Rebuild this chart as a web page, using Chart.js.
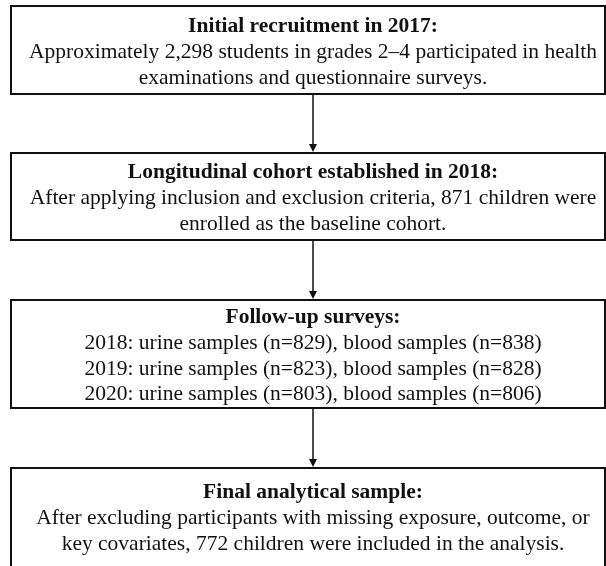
<!DOCTYPE html>
<html>
<head>
<meta charset="utf-8">
<script src="https://cdn.jsdelivr.net/npm/chart.js@4/dist/chart.umd.min.js"></script>
<style>
  html, body { margin: 0; padding: 0; background: #ffffff; }
  #wrap { width: 606px; height: 566px; position: relative; }
</style>
</head>
<body>
<div id="wrap"><canvas id="c"></canvas></div>
<script>
// ---------- DATA ----------
const stageTitles = [
  "Initial recruitment in 2017:",
  "Longitudinal cohort established in 2018:",
  "Follow-up surveys:",
  "Final analytical sample:"
];
const recruitedN = "2,298";
const baselineN = 871;
const finalN = 772;
const followYears = [2018, 2019, 2020];
const urineN = [829, 823, 803];
const bloodN = [838, 828, 806];

const stageLines = [
  ["Approximately " + recruitedN + " students in grades 2\u20134 participated in health",
   "examinations and questionnaire surveys."],
  ["After applying inclusion and exclusion criteria, " + baselineN + " children were",
   "enrolled as the baseline cohort."],
  followYears.map((y, i) => y + ": urine samples (n=" + urineN[i] + "), blood samples (n=" + bloodN[i] + ")"),
  ["After excluding participants with missing exposure, outcome, or",
   "key covariates, " + finalN + " children were included in the analysis."]
];

// ---------- LAYOUT / STYLE (scale units) ----------
const layout = {
  left: 11, right: 605, textCenter: 313, arrowX: 313,
  tops:    [6, 153, 300, 468],
  bottoms: [94, 240, 408, 620],
  firstBaseline: [26, 25, 23, 30],
  pitch: 25.8,
  fontSize: 21.5,
  font: "'Liberation Serif', 'Times New Roman', serif",
  color: "#111111",
  boxLine: 2,
  arrowLine: 1.5,
  headW: 4, headH: 8
};

const flowPlugin = {
  id: 'flow',
  afterDraw(chart) {
    const ctx = chart.ctx;
    const xs = chart.scales.x, ys = chart.scales.y;
    const X = v => xs.getPixelForValue(v);
    const Y = v => ys.getPixelForValue(v);
    ctx.save();
    ctx.strokeStyle = layout.color;
    ctx.fillStyle = layout.color;
    // boxes
    stageTitles.forEach((t, i) => {
      const x0 = X(layout.left), x1 = X(layout.right);
      const y0 = Y(layout.tops[i]), y1 = Y(layout.bottoms[i]);
      ctx.lineWidth = layout.boxLine;
      ctx.strokeRect(x0, y0, x1 - x0, y1 - y0);
      ctx.textAlign = 'center';
      ctx.textBaseline = 'alphabetic';
      const cx = X(layout.textCenter);
      let by = layout.tops[i] + layout.firstBaseline[i];
      ctx.font = "bold " + layout.fontSize + "px " + layout.font;
      ctx.fillText(t, cx, Y(by));
      ctx.font = layout.fontSize + "px " + layout.font;
      stageLines[i].forEach(line => {
        by += layout.pitch;
        ctx.fillText(line, cx, Y(by));
      });
    });
    // arrows
    for (let i = 0; i < stageTitles.length - 1; i++) {
      const ax = X(layout.arrowX);
      const ya = Y(layout.bottoms[i]) + layout.boxLine / 2;
      const yb = Y(layout.tops[i + 1]) - layout.boxLine / 2;
      ctx.lineWidth = layout.arrowLine;
      ctx.beginPath();
      ctx.moveTo(ax, ya);
      ctx.lineTo(ax, yb - layout.headH + 1);
      ctx.stroke();
      ctx.beginPath();
      ctx.moveTo(ax - layout.headW, yb - layout.headH);
      ctx.lineTo(ax + layout.headW, yb - layout.headH);
      ctx.lineTo(ax, yb);
      ctx.closePath();
      ctx.fill();
    }
    ctx.restore();
  }
};

new Chart(document.getElementById('c'), {
  type: 'scatter',
  data: { datasets: [{ data: [], pointRadius: 0 }] },
  options: {
    responsive: true,
    maintainAspectRatio: false,
    animation: false,
    layout: { padding: 0 },
    plugins: { legend: { display: false }, tooltip: { enabled: false } },
    scales: {
      x: { type: 'linear', min: 0, max: 606, display: false },
      y: { type: 'linear', min: 0, max: 566, reverse: true, display: false }
    }
  },
  plugins: [flowPlugin]
});
</script>
</body>
</html>
